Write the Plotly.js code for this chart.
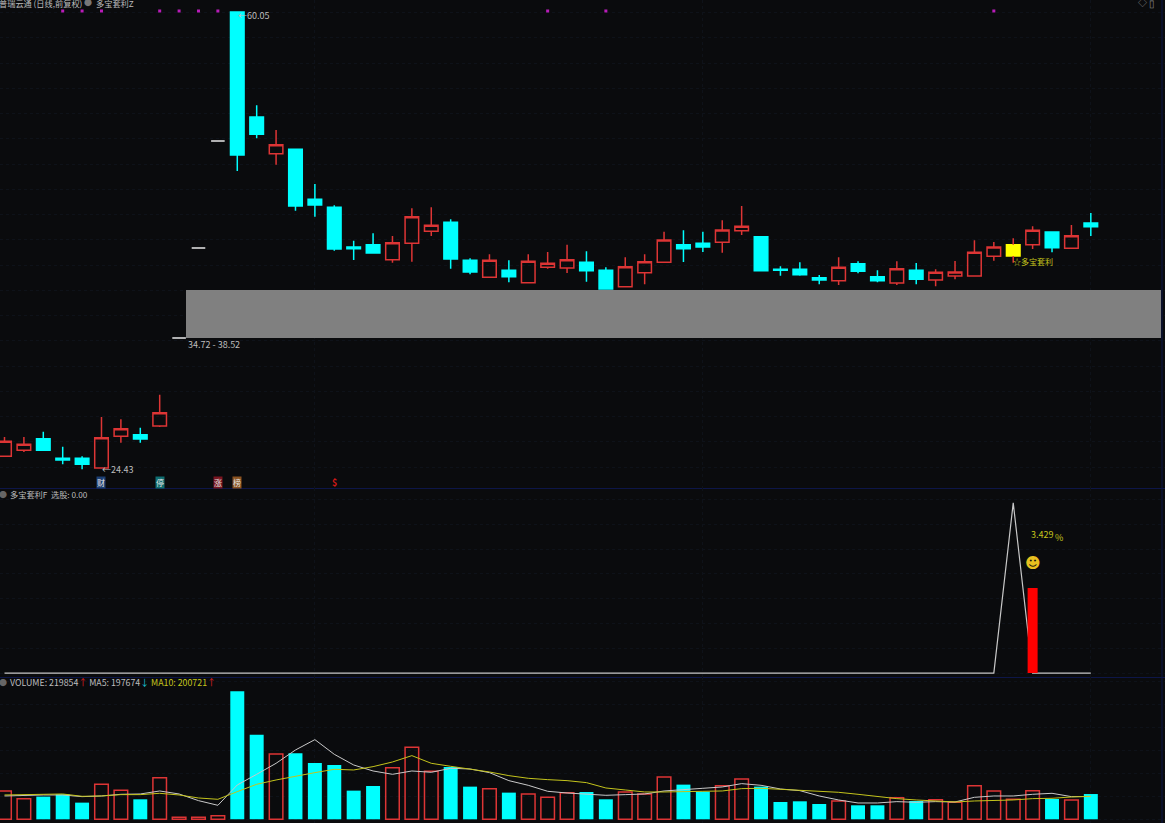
<!DOCTYPE html>
<html><head><meta charset="utf-8">
<script src="https://cdn.plot.ly/plotly-3.0.1.min.js"></script>
<style>html,body{margin:0;padding:0;background:#0a0b0d;overflow:hidden}</style>
</head><body><div id="chart" style="width:1165px;height:823px"></div>
<script>
// candle index 0..56
const opens  = [25.35,25.83,26.75,25.19,25.19,24.43,26.94,27.06,27.75,34.72,41.85,50.32,60.54,52.22,49.32,49.67,45.71,45.07,41.93,42.11,40.92,42.22,43.17,43.88,40.87,39.53,40.08,39.10,40.32,40.26,40.72,40.08,38.78,39.89,40.72,42.11,42.22,42.30,43.22,42.74,40.16,40.16,39.50,39.26,40.60,39.58,39.08,40.08,39.31,39.63,39.63,41.19,41.21,42.11,43.12,41.82,43.83];
const highs  = [26.88,26.88,27.30,26.11,25.35,28.46,28.28,27.62,30.23,34.72,41.85,50.32,60.54,53.15,51.19,49.69,46.92,45.23,42.43,43.01,42.80,44.99,45.07,44.12,41.03,41.35,40.87,41.35,41.53,42.11,41.59,40.32,41.11,41.35,43.14,43.25,43.14,44.04,45.17,42.78,40.40,40.72,39.71,41.11,40.80,40.08,40.80,40.66,40.16,40.82,42.46,42.32,42.62,43.57,43.12,43.67,44.62];
const lows   = [25.35,25.69,25.83,24.72,24.32,24.43,26.43,26.43,27.67,34.72,41.85,50.32,47.95,50.54,48.45,44.80,44.33,41.64,40.90,41.45,40.68,40.76,42.80,40.21,39.77,39.53,39.13,39.10,40.21,39.87,39.18,38.60,38.78,38.97,40.72,40.74,41.53,41.48,42.88,40.05,39.66,39.66,38.97,38.92,39.84,39.13,38.92,38.97,38.82,39.37,39.58,40.84,40.68,41.77,41.51,41.77,42.80];
const closes = [26.54,26.30,25.83,25.06,24.72,26.82,27.54,26.72,28.80,34.72,41.85,50.32,49.21,50.85,50.03,45.17,45.25,41.77,41.79,41.45,42.27,44.33,43.65,40.98,39.95,40.87,39.58,40.80,40.64,40.92,40.05,38.60,40.37,40.76,42.48,41.79,41.93,43.27,43.57,40.05,40.08,39.73,39.31,40.32,40.00,39.26,40.21,39.37,39.92,39.95,41.51,41.93,42.11,43.25,41.87,42.82,43.54];
const flatDays = [9,10,11];
const signalDay = 52;
const flagDays = [3,4,5,8,9,10,11,28,31,51];
const flagLevel = 60.62;
const zoneLow = 34.72, zoneHigh = 38.52;

const volumes = [246500,179800,197200,217500,145000,304500,252300,174000,362500,17400,17400,31900,1113600,736600,568400,574200,490100,472700,249400,290000,449500,626400,417600,455300,284200,266800,232000,220400,191400,232000,237800,174000,237800,220400,368300,301600,240700,292900,350900,284200,150800,156600,133400,159500,121800,121800,188500,159500,171100,147900,292900,246500,174000,249400,176900,168200,219854];
const ma5 = [203000,208800,211700,211700,197200,203000,217500,220400,246500,220400,162400,121800,298700,391500,487200,603200,693100,565500,472700,420500,391500,420500,408900,443700,437900,406000,336400,295800,243600,229100,217500,208800,214600,220400,246500,261000,269700,281300,310300,295800,263900,249400,203000,168200,142100,142100,153700,147900,153700,150800,191400,203000,203000,217500,226200,197200,197674];
const ma10 = [211700,214600,217500,220400,200100,203000,214600,214600,226200,211700,185600,174000,240700,304500,342200,377000,406000,435000,429200,458200,498800,553900,487200,461100,437900,411800,379900,356700,345100,336400,319000,272600,255200,237800,237800,243600,243600,246500,266800,269700,261000,255200,240700,234900,217500,197200,179800,168200,159500,150800,159500,162400,168200,179800,182700,194300,200721];

const signalLineDays = [0,51,52,53,56];
const signalLine = [0,0,6.858,0,0];
const signalBarDay = 53;
const signalBar = 3.429;

const legendName = "普瑞云通 (日线,前复权)";
const overlayName = "多宝套利Z";
const indicatorName = "多宝套利F  选股: 0.00";
const signalName = "☆多宝套利";
const pctText = "3.429";
const eventLabels = [["财",5,"#1c3f73"],["停",8,"#0f6d70"],["涨",11,"#7a1520"],["榜",12,"#8a5220"]];

const BG="#0a0b0d", RED="#dd3535", CYAN="#00ffff", YEL="#c4c41c", TXT="#bdbdbd", NAVY="#0d1648", GRID="#0e1219";
const FONT='"Noto Sans CJK SC","Noto Sans",sans-serif';
const W=1165,H=823;
const days=opens.map((_,i)=>i);
const xRange=[-0.232,59.824];
const isFlat=i=>flatDays.includes(i), isSig=i=>i===signalDay;
const pick=(idx,a)=>idx.map(i=>a[i]);
function candle(idx,color,fill,hi,lo){
  const s={line:{color:color,width:1.5},fillcolor:fill};
  return {type:'candlestick',x:idx,open:pick(idx,opens),high:pick(idx,hi||highs),low:pick(idx,lo||lows),close:pick(idx,closes),
    xaxis:'x',yaxis:'y',whiskerwidth:0,increasing:s,decreasing:s,showlegend:false,hoverinfo:'skip'};
}
const upIdx=days.filter(i=>!isFlat(i)&&!isSig(i)&&closes[i]>=opens[i]);
const dnIdx=days.filter(i=>!isFlat(i)&&!isSig(i)&&closes[i]<opens[i]);
const volUp=days.filter(i=>closes[i]>=opens[i]);
const volDn=days.filter(i=>closes[i]<opens[i]);

const traces=[
  candle(upIdx,RED,'rgba(0,0,0,0)'),
  candle(dnIdx,CYAN,CYAN),
  candle(flatDays,'#e8e8e8','#e8e8e8'),
  candle([signalDay],'#ffff00','#ffff00',closes,opens),
  {type:'scatter',mode:'lines',x:[signalDay,signalDay,null,signalDay,signalDay],y:[highs[signalDay],closes[signalDay],null,opens[signalDay],lows[signalDay]],line:{color:RED,width:1.5},connectgaps:false,xaxis:'x',yaxis:'y',showlegend:false,hoverinfo:'skip'},
  {type:'scatter',mode:'markers',x:flagDays,y:flagDays.map(()=>flagLevel),marker:{symbol:'square',size:3,color:'#b81cb8'},xaxis:'x',yaxis:'y',showlegend:false,hoverinfo:'skip'},
  {type:'scatter',mode:'lines',x:signalLineDays,y:signalLine,line:{color:'#c8c8c8',width:1.2},xaxis:'x2',yaxis:'y2',showlegend:false,hoverinfo:'skip'},
  {type:'scatter',mode:'lines',x:[signalBarDay,signalBarDay],y:[0,signalBar],line:{color:'#ff0000',width:10},xaxis:'x2',yaxis:'y2',showlegend:false,hoverinfo:'skip'},
  {type:'bar',x:volUp,y:pick(volUp,volumes),width:0.7,marker:{color:'rgba(0,0,0,0)',line:{color:RED,width:1.5}},xaxis:'x3',yaxis:'y3',showlegend:false,hoverinfo:'skip'},
  {type:'bar',x:volDn,y:pick(volDn,volumes),width:0.72,marker:{color:CYAN,line:{width:0}},xaxis:'x3',yaxis:'y3',showlegend:false,hoverinfo:'skip'},
  {type:'scatter',mode:'lines',x:days,y:ma5,line:{color:'#c8c8c8',width:1},xaxis:'x3',yaxis:'y3',showlegend:false,hoverinfo:'skip'},
  {type:'scatter',mode:'lines',x:days,y:ma10,line:{color:YEL,width:1},xaxis:'x3',yaxis:'y3',showlegend:false,hoverinfo:'skip'}
];

const xBase={range:xRange,tick0:16,dtick:20,tickmode:'linear',showgrid:true,gridcolor:GRID,griddash:'dot',gridwidth:1,
  zeroline:false,showticklabels:false,ticks:'',showline:true,linecolor:NAVY,linewidth:1,fixedrange:true,type:'linear'};
const yBase={showgrid:true,gridcolor:GRID,griddash:'dot',gridwidth:1,zeroline:false,showticklabels:false,ticks:'',showline:false,fixedrange:true,tickmode:'linear'};
const P=(px,py)=>({xref:'paper',yref:'paper',x:px/W,y:1-py/H});
function note(px,py,text,color,size,anchor){
  return Object.assign(P(px,py),{text,showarrow:false,xanchor:anchor||'left',yanchor:'middle',font:{family:FONT,size:size||9,color:color||TXT},borderpad:0});
}
const dataNote=(i,p,text,color,size,extra)=>Object.assign({xref:'x',yref:'y',x:i,y:p,text,showarrow:false,xanchor:'left',yanchor:'middle',font:{family:FONT,size:size||9,color:color||TXT},borderpad:0},extra||{});
const eventY=23.24;
const annotations=[
  note(-2,3,legendName,TXT,8.2),
  note(88,3,"●","#777",8,'center'),
  note(95,3,overlayName,TXT,8.2),
  note(1142,3,"◇","#888",9,'center'),
  note(1152,3,"▯","#888",10,'center'),
  note(3,494,"●","#666",8,'center'),
  note(9,494,indicatorName,TXT,8.2),
  note(3,682,"●","#666",8,'center'),
  note(9,682,`VOLUME: ${volumes[56]}<span style="color:#e02020">↑</span> MA5: ${ma5[56]}<span style="color:#18c8d8">↓</span> <span style="color:${YEL}">MA10: ${ma10[56]}</span><span style="color:#e02020">↑</span>`,TXT,8.8),
  dataNote(12,highs[12]-0.3,"←60.05",TXT,9),
  dataNote(5,24.43-0.15,"←24.43",TXT,9),
  dataNote(9.4,zoneLow-0.48,zoneLow+" - "+zoneHigh,TXT,9),
  dataNote(52,40.75,signalName,YEL,8,{x:51.95}),
  dataNote(53,0,pctText,YEL,9,{xref:'x2',yref:'y2',x:52.88,y:5.6}),
  dataNote(54,0,"%",YEL,9,{xref:'x2',yref:'y2',x:54.1,y:5.47}),
  dataNote(53,0,"☻",'#e8c020',15,{xref:'x2',yref:'y2',y:4.45,xanchor:'center',font:{family:'"DejaVu Sans"',size:15,color:'#e8c020'}}),
  dataNote(17,eventY,"<b>$</b>","#d01818",9,{xanchor:'center'})
].concat(eventLabels.map(e=>dataNote(e[1],eventY,e[0],'#e6e6e6',8,{xanchor:'center',bgcolor:e[2]})));

Plotly.newPlot('chart',traces,{
  width:W,height:H,autosize:false,margin:{l:0,r:0,t:0,b:0},paper_bgcolor:BG,plot_bgcolor:BG,
  barmode:'overlay',boxgap:0.3,boxgroupgap:0,boxmode:'overlay',hovermode:false,showlegend:false,dragmode:false,
  xaxis:Object.assign({},xBase,{anchor:'y',rangeslider:{visible:false}}),
  xaxis2:Object.assign({},xBase,{anchor:'y2'}),
  xaxis3:Object.assign({},xBase,{anchor:'y3',showline:false}),
  yaxis:Object.assign({},yBase,{domain:[1-488/H,1],range:[22.84,61.49],tick0:0.5,dtick:2}),
  yaxis2:Object.assign({},yBase,{domain:[1-677/H,1-488/H],range:[-0.16,7.46],tick0:0,dtick:1}),
  yaxis3:Object.assign({},yBase,{domain:[0,1-677/H],range:[-32190,1238010],tick0:0,dtick:200000}),
  shapes:[
    {type:'rect',xref:'paper',yref:'y',x0:186/W,x1:1161/W,y0:zoneLow,y1:zoneHigh,fillcolor:'#808080',line:{width:0},layer:'above'},
    {type:'line',xref:'paper',yref:'paper',x0:1162/W,x1:1162/W,y0:0,y1:1,line:{color:NAVY,width:1}}
  ],
  annotations
},{displayModeBar:false,staticPlot:true});
</script></body></html>
